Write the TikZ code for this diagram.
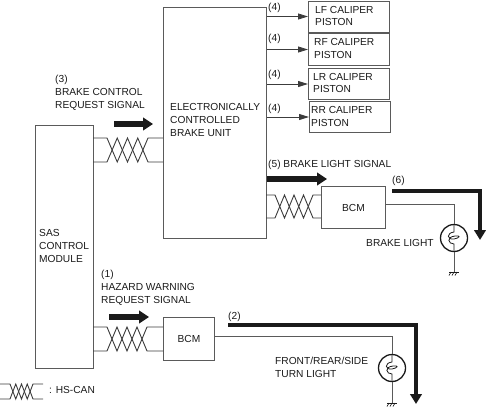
\documentclass[tikz,border=0pt]{standalone}
\usepackage{fontspec}
\setmainfont{Liberation Sans}
\usetikzlibrary{arrows.meta,calc}
\definecolor{ink}{HTML}{1A1A1A}
\definecolor{wirec}{HTML}{5A5A5A}
\tikzset{
  unitbox/.style={draw=wirec,line width=1pt,fill=white,inner sep=0pt,anchor=north west},
  lbl/.style={font=\fontsize{10.2}{12.8}\selectfont,text=ink,anchor=west,align=left,inner sep=0pt},
  wire/.style={draw=wirec,line width=0.9pt},
  canwire/.style={draw=ink!85,line width=0.9pt},
  sigfat/.style={ink,line width=5.5pt,-{Triangle[length=10pt,width=12.5pt]}},
  sigrun/.style={ink,line width=3.2pt,-{Triangle[length=10pt,width=11.5pt]}},
  sigthin/.style={ink!85,line width=0.9pt,-{Triangle[length=10pt,width=6pt]}},
  lamp/.style={circle,draw=ink,line width=1.3pt,fill=white,minimum size=27pt,inner sep=0pt},
}
% twisted pair: #1 left end of upper wire, #2 twist start, #3 twist end, #4 right end, #5 gap
\newcommand{\twistpair}[5]{
  \coordinate (tw) at #1;
  \draw[canwire] (tw) -- ++({#2},0)
    \foreach \k in {1,2} {-- ++({(#3)/4},{#5}) -- ++({(#3)/4},{-(#5)})} -- ++({#4},0);
  \draw[canwire] ($(tw)+(0,{#5})$) -- ++({#2},0)
    \foreach \k in {1,2} {-- ++({(#3)/4},{-(#5)}) -- ++({(#3)/4},{#5})} -- ++({#4},0);
}
\newcommand{\gndmark}[1]{
  \draw[ink,line width=0.7pt] ($#1+(-5,0)$) -- ($#1+(5,0)$);
  \foreach \g in {-3,0,3} \draw[ink,line width=0.6pt] ($#1+(\g,0)$) -- ++(-2,3.5);
}
\newcommand{\coilmark}[1]{
  \draw[ink,line width=0.8pt] ($#1+(0,-13)$) -- ($#1+(0,-6)$)
    .. controls ($#1+(-8,-5)$) and ($#1+(-7,2)$) .. ($#1+(0,1)$)
    .. controls ($#1+(6,0)$) and ($#1+(7,-3)$) .. ($#1+(1,-2)$)
    .. controls ($#1+(-8,-1)$) and ($#1+(-6,6)$) .. ($#1+(0,6)$) -- ($#1+(0,13)$);
}
\begin{document}
\begin{tikzpicture}[x=1pt,y=-1pt]
  \useasboundingbox (0,0) rectangle (486,408);
  \node[unitbox,minimum width=58pt,minimum height=243pt] (sas) at (35,125) {};
  \node[unitbox,minimum width=103pt,minimum height=231pt] (ebu) at (163,7) {};
  \node[unitbox,minimum width=81pt,minimum height=31pt] (lf) at (308,0.5) {};
  \node[unitbox,minimum width=81pt,minimum height=32pt] (rf) at (308,33) {};
  \node[unitbox,minimum width=81pt,minimum height=31pt] (lr) at (308,68) {};
  \node[unitbox,minimum width=81pt,minimum height=31pt] (rr) at (309,101) {};
  \node[unitbox,minimum width=64pt,minimum height=42pt] (bcmb) at (321,186) {};
  \node[unitbox,minimum width=51pt,minimum height=43pt] (bcmh) at (163,317) {};
  \node[lbl] (lflbl) at (315,16) {LF CALIPER\\PISTON};
  \node[lbl] (rflbl) at (314,48.5) {RF CALIPER\\PISTON};
  \node[lbl] (lrlbl) at (313,83) {LR CALIPER\\PISTON};
  \node[lbl] (rrlbl) at (311,116.5) {RR CALIPER\\PISTON};
  \node[lbl] (ebulbl) at (170,120) {ELECTRONICALLY\\CONTROLLED\\BRAKE UNIT};
  \node[lbl] (saslbl) at (39,246) {SAS\\CONTROL\\MODULE};
  \node[lbl,anchor=center] (bcmblbl) at (bcmb.center) {BCM};
  \node[lbl,anchor=center] (bcmhlbl) at (bcmh.center) {BCM};
  \node[lbl] (sig3) at (55,93) {(3)\\BRAKE CONTROL\\REQUEST SIGNAL};
  \node[lbl] (sig1) at (101,288) {(1)\\HAZARD WARNING\\REQUEST SIGNAL};
  \node[lbl] (sig5) at (268,165) {(5) BRAKE LIGHT SIGNAL};
  \node[lbl] (sig6) at (392,181) {(6)};
  \node[lbl] (sig2) at (228,317) {(2)};
  \node[lbl] (sig4a) at (268,8) {(4)};
  \node[lbl] (sig4b) at (268,39) {(4)};
  \node[lbl] (sig4c) at (268,75) {(4)};
  \node[lbl] (sig4d) at (268,109) {(4)};
  \node[lbl] (lightb) at (366,243) {BRAKE LIGHT};
  \node[lbl] (lighth) at (275,367) {FRONT/REAR/SIDE\\TURN LIGHT};
  \node[lbl] (canlbl) at (49,390) {: HS-CAN};
  \foreach \t in {lf,rf,lr,rr}
    \draw[sigthin] (ebu.east |- \t.west) -- (\t.west);
  \twistpair{(93,138)}{14}{41}{15}{24}
  \twistpair{(266,195)}{9}{38}{8}{23}
  \twistpair{(93,327)}{14}{40}{16}{24}
  \twistpair{(0,384)}{10}{23}{10}{15}
  \coordinate (a3s) at (114,124);
  \coordinate (a3e) at (153,124);
  \coordinate (a5s) at (267,179);
  \coordinate (a5e) at (327,179);
  \coordinate (a1s) at (109,317);
  \coordinate (a1e) at (149,317);
  \draw[sigfat] (a3s) -- (a3e);
  \draw[sigfat] (a5s) -- (a5e);
  \draw[sigfat] (a1s) -- (a1e);
  \coordinate (r6s) at (392,191);
  \coordinate (r6c) at (480,191);
  \coordinate (r6e) at (480,240);
  \coordinate (r2s) at (228,325);
  \coordinate (r2c) at (416,325);
  \coordinate (r2e) at (416,404);
  \draw[sigrun] (r6s) -- (r6c) -- (r6e);
  \draw[sigrun] (r2s) -- (r2c) -- (r2e);
  \node[lamp] (lampb) at (454,238) {};
  \node[lamp] (lamph) at (392,368) {};
  \coordinate (gndb) at (454,272);
  \coordinate (gndh) at (392,403);
  \draw[wire] (bcmb.east |- 0,204) -| (lampb.north);
  \draw[wire] (bcmh.east |- 0,336) -| (lamph.north);
  \draw[wire] (lampb.south) -- (gndb);
  \draw[wire] (lamph.south) -- (gndh);
  \coilmark{(lampb.center)}
  \coilmark{(lamph.center)}
  \gndmark{(gndb)}
  \gndmark{(gndh)}
\end{tikzpicture}
\end{document}
